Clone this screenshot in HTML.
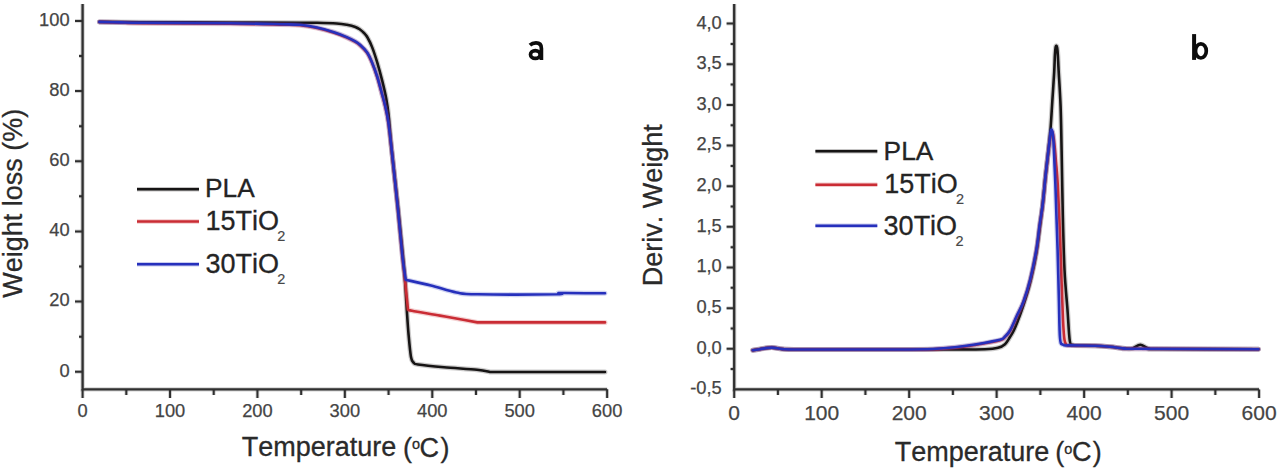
<!DOCTYPE html>
<html><head><meta charset="utf-8"><title>TGA / DTG curves</title>
<style>
html,body{margin:0;padding:0;background:#fff;width:1280px;height:470px;overflow:hidden}
svg{display:block;font-family:"Liberation Sans", sans-serif;font-kerning:none}
text{font-kerning:none}
text{fill:#2a2a2a}
.tk{fill:#444;stroke:#444;stroke-width:0.25px}
.ti{fill:#2a2a2a;stroke:#2a2a2a;stroke-width:0.3px}
.lg{fill:#242424;stroke:#242424;stroke-width:0.3px}
.sb{fill:#474747;stroke:#474747;stroke-width:0.2px}
.lb{fill:#0a0a0a;stroke:#0a0a0a;stroke-width:0.3px}
</style></head><body>
<svg width="1280" height="470" viewBox="0 0 1280 470">
<rect width="1280" height="470" fill="#fff"/>
<path d="M82.60,3.90 L82.60,389.35 L607.12,389.35" fill="none" stroke="#303030" stroke-opacity="0.22" stroke-width="4.3"/>
<path d="M82.60,389.35 v8.6 M126.31,389.35 v5.6 M170.02,389.35 v8.6 M213.73,389.35 v5.6 M257.44,389.35 v8.6 M301.15,389.35 v5.6 M344.86,389.35 v8.6 M388.57,389.35 v5.6 M432.28,389.35 v8.6 M475.99,389.35 v5.6 M519.70,389.35 v8.6 M563.41,389.35 v5.6 M607.12,389.35 v8.6 M82.60,371.80 h-7.6 M82.60,336.71 h-3.6 M82.60,301.62 h-7.6 M82.60,266.53 h-3.6 M82.60,231.44 h-7.6 M82.60,196.35 h-3.6 M82.60,161.26 h-7.6 M82.60,126.17 h-3.6 M82.60,91.08 h-7.6 M82.60,55.99 h-3.6 M82.60,20.90 h-7.6" fill="none" stroke="#303030" stroke-opacity="0.22" stroke-width="3.8"/>
<path d="M82.60,3.90 L82.60,389.35 L607.12,389.35" fill="none" stroke="#303030" stroke-width="2.3"/>
<path d="M82.60,389.35 v8.6 M126.31,389.35 v5.6 M170.02,389.35 v8.6 M213.73,389.35 v5.6 M257.44,389.35 v8.6 M301.15,389.35 v5.6 M344.86,389.35 v8.6 M388.57,389.35 v5.6 M432.28,389.35 v8.6 M475.99,389.35 v5.6 M519.70,389.35 v8.6 M563.41,389.35 v5.6 M607.12,389.35 v8.6 M82.60,371.80 h-7.6 M82.60,336.71 h-3.6 M82.60,301.62 h-7.6 M82.60,266.53 h-3.6 M82.60,231.44 h-7.6 M82.60,196.35 h-3.6 M82.60,161.26 h-7.6 M82.60,126.17 h-3.6 M82.60,91.08 h-7.6 M82.60,55.99 h-3.6 M82.60,20.90 h-7.6" fill="none" stroke="#303030" stroke-width="2"/>
<text class="tk" x="69.6" y="376.50" text-anchor="end" font-size="18.3">0</text>
<text class="tk" x="69.6" y="306.32" text-anchor="end" font-size="18.3">20</text>
<text class="tk" x="69.6" y="236.14" text-anchor="end" font-size="18.3">40</text>
<text class="tk" x="69.6" y="165.96" text-anchor="end" font-size="18.3">60</text>
<text class="tk" x="69.6" y="95.78" text-anchor="end" font-size="18.3">80</text>
<text class="tk" x="69.6" y="25.60" text-anchor="end" font-size="18.3">100</text>
<text class="tk" x="82.60" y="417.2" text-anchor="middle" font-size="18.3">0</text>
<text class="tk" x="170.02" y="417.2" text-anchor="middle" font-size="18.3">100</text>
<text class="tk" x="257.44" y="417.2" text-anchor="middle" font-size="18.3">200</text>
<text class="tk" x="344.86" y="417.2" text-anchor="middle" font-size="18.3">300</text>
<text class="tk" x="432.28" y="417.2" text-anchor="middle" font-size="18.3">400</text>
<text class="tk" x="519.70" y="417.2" text-anchor="middle" font-size="18.3">500</text>
<text class="tk" x="607.12" y="417.2" text-anchor="middle" font-size="18.3">600</text>
<path d="M734.20,3.90 L734.20,389.45 L1259.08,389.45" fill="none" stroke="#303030" stroke-opacity="0.22" stroke-width="4.3"/>
<path d="M734.20,389.45 v8.6 M777.94,389.45 v5.6 M821.68,389.45 v8.6 M865.42,389.45 v5.6 M909.16,389.45 v8.6 M952.90,389.45 v5.6 M996.64,389.45 v8.6 M1040.38,389.45 v5.6 M1084.12,389.45 v8.6 M1127.86,389.45 v5.6 M1171.60,389.45 v8.6 M1215.34,389.45 v5.6 M1259.08,389.45 v8.6 M734.20,369.12 h-3.6 M734.20,348.80 h-7.6 M734.20,328.48 h-3.6 M734.20,308.15 h-7.6 M734.20,287.83 h-3.6 M734.20,267.50 h-7.6 M734.20,247.18 h-3.6 M734.20,226.85 h-7.6 M734.20,206.53 h-3.6 M734.20,186.20 h-7.6 M734.20,165.88 h-3.6 M734.20,145.55 h-7.6 M734.20,125.23 h-3.6 M734.20,104.90 h-7.6 M734.20,84.58 h-3.6 M734.20,64.25 h-7.6 M734.20,43.93 h-3.6 M734.20,23.60 h-7.6" fill="none" stroke="#303030" stroke-opacity="0.22" stroke-width="3.8"/>
<path d="M734.20,3.90 L734.20,389.45 L1259.08,389.45" fill="none" stroke="#303030" stroke-width="2.3"/>
<path d="M734.20,389.45 v8.6 M777.94,389.45 v5.6 M821.68,389.45 v8.6 M865.42,389.45 v5.6 M909.16,389.45 v8.6 M952.90,389.45 v5.6 M996.64,389.45 v8.6 M1040.38,389.45 v5.6 M1084.12,389.45 v8.6 M1127.86,389.45 v5.6 M1171.60,389.45 v8.6 M1215.34,389.45 v5.6 M1259.08,389.45 v8.6 M734.20,369.12 h-3.6 M734.20,348.80 h-7.6 M734.20,328.48 h-3.6 M734.20,308.15 h-7.6 M734.20,287.83 h-3.6 M734.20,267.50 h-7.6 M734.20,247.18 h-3.6 M734.20,226.85 h-7.6 M734.20,206.53 h-3.6 M734.20,186.20 h-7.6 M734.20,165.88 h-3.6 M734.20,145.55 h-7.6 M734.20,125.23 h-3.6 M734.20,104.90 h-7.6 M734.20,84.58 h-3.6 M734.20,64.25 h-7.6 M734.20,43.93 h-3.6 M734.20,23.60 h-7.6" fill="none" stroke="#303030" stroke-width="2"/>
<text class="tk" x="721.8" y="394.35" text-anchor="end" font-size="18.3">-0,5</text>
<text class="tk" x="721.8" y="353.70" text-anchor="end" font-size="18.3">0,0</text>
<text class="tk" x="721.8" y="313.05" text-anchor="end" font-size="18.3">0,5</text>
<text class="tk" x="721.8" y="272.40" text-anchor="end" font-size="18.3">1,0</text>
<text class="tk" x="721.8" y="231.75" text-anchor="end" font-size="18.3">1,5</text>
<text class="tk" x="721.8" y="191.10" text-anchor="end" font-size="18.3">2,0</text>
<text class="tk" x="721.8" y="150.45" text-anchor="end" font-size="18.3">2,5</text>
<text class="tk" x="721.8" y="109.80" text-anchor="end" font-size="18.3">3,0</text>
<text class="tk" x="721.8" y="69.15" text-anchor="end" font-size="18.3">3,5</text>
<text class="tk" x="721.8" y="28.50" text-anchor="end" font-size="18.3">4,0</text>
<text class="tk" x="734.20" y="419.8" text-anchor="middle" font-size="21">0</text>
<text class="tk" x="821.68" y="419.8" text-anchor="middle" font-size="21">100</text>
<text class="tk" x="909.16" y="419.8" text-anchor="middle" font-size="21">200</text>
<text class="tk" x="996.64" y="419.8" text-anchor="middle" font-size="21">300</text>
<text class="tk" x="1084.12" y="419.8" text-anchor="middle" font-size="21">400</text>
<text class="tk" x="1171.60" y="419.8" text-anchor="middle" font-size="21">500</text>
<text class="tk" x="1259.08" y="419.8" text-anchor="middle" font-size="21">600</text>
<text class="ti" x="241.70" y="456.30" font-size="27">Temperature</text>
<text class="ti" x="403.00" y="456.50" font-size="27">(</text>
<text class="ti" x="412.00" y="449.30" font-size="14.5">o</text>
<text class="ti" x="419.60" y="456.50" font-size="27">C</text>
<text class="ti" x="440.40" y="456.50" font-size="27">)</text>
<text class="ti" x="894.80" y="460.90" font-size="27">Temperature</text>
<text class="ti" x="1055.30" y="461.10" font-size="27">(</text>
<text class="ti" x="1064.30" y="453.90" font-size="14.5">o</text>
<text class="ti" x="1071.90" y="461.10" font-size="27">C</text>
<text class="ti" x="1092.70" y="461.10" font-size="27">)</text>
<text class="ti" transform="translate(21.8,297.8) rotate(-90)" font-size="27">Weight loss (%)</text>
<text class="ti" transform="translate(662.1,286.2) rotate(-90)" font-size="27">Deriv. Weight</text>
<g fill="none" stroke="#0c0c0c" stroke-width="3.7"><path d="M529.9,45.2 C531.8,43.4 533.8,42.9 536,42.9 C539.9,42.9 541.4,44.9 541.4,48.4 V59.9"/><ellipse cx="535.3" cy="54.5" rx="4.8" ry="3.85"/></g>
<g fill="none" stroke="#0c0c0c"><path d="M1194.1,34.1 V59.9" stroke-width="4"/><ellipse cx="1200.9" cy="50.9" rx="5.4" ry="7.1" stroke-width="3.7"/></g>
<path d="M137,189.2 H199" stroke="#161414" stroke-opacity="0.25" stroke-width="4.6"/>
<path d="M137,189.2 H199" stroke="#161414" stroke-width="2.5"/>
<path d="M137,221.5 H199" stroke="#ca2c34" stroke-opacity="0.25" stroke-width="4.6"/>
<path d="M137,221.5 H199" stroke="#ca2c34" stroke-width="2.5"/>
<path d="M137,264.3 H199" stroke="#2630bc" stroke-opacity="0.25" stroke-width="4.6"/>
<path d="M137,264.3 H199" stroke="#2630bc" stroke-width="2.5"/>
<text class="lg" x="205.0" y="196.7" font-size="26.3">PLA</text>
<text class="lg" x="205.5" y="229.7" font-size="27">15TiO</text>
<text class="sb" x="277.30" y="240.70" font-size="14.5">2</text>
<text class="lg" x="205.4" y="272.6" font-size="27">30TiO</text>
<text class="sb" x="277.20" y="283.60" font-size="14.5">2</text>
<path d="M815.4,151.3 H877.3" stroke="#161414" stroke-opacity="0.25" stroke-width="4.6"/>
<path d="M815.4,151.3 H877.3" stroke="#161414" stroke-width="2.5"/>
<path d="M815.4,184.7 H877.3" stroke="#ca2c34" stroke-opacity="0.25" stroke-width="4.6"/>
<path d="M815.4,184.7 H877.3" stroke="#ca2c34" stroke-width="2.5"/>
<path d="M815.4,225.8 H877.3" stroke="#2630bc" stroke-opacity="0.25" stroke-width="4.6"/>
<path d="M815.4,225.8 H877.3" stroke="#2630bc" stroke-width="2.5"/>
<text class="lg" x="883.6" y="159.7" font-size="26.3">PLA</text>
<text class="lg" x="884.2" y="192.6" font-size="27">15TiO</text>
<text class="sb" x="956.00" y="203.60" font-size="14.5">2</text>
<text class="lg" x="883.6" y="234.7" font-size="27">30TiO</text>
<text class="sb" x="955.40" y="245.70" font-size="14.5">2</text>
<path d="M99.40,21.90 C106.17,21.95 118.23,22.10 140.00,22.20 C161.77,22.30 203.33,22.42 230.00,22.50 C256.67,22.58 285.50,22.65 300.00,22.70 C314.50,22.75 310.90,22.67 317.00,22.80 C323.10,22.93 331.63,23.17 336.60,23.50 C341.57,23.83 343.68,24.23 346.80,24.80 C349.92,25.37 353.10,26.12 355.30,26.90 C357.50,27.68 358.55,28.48 360.00,29.50 C361.45,30.52 362.75,31.67 364.00,33.00 C365.25,34.33 366.15,35.15 367.50,37.50 C368.85,39.85 370.48,42.95 372.10,47.10 C373.72,51.25 375.50,56.73 377.20,62.40 C378.90,68.07 380.78,75.00 382.30,81.10 C383.82,87.20 385.25,93.35 386.30,99.00 C387.35,104.65 387.70,106.50 388.60,115.00 C389.50,123.50 390.08,134.17 391.70,150.00 C393.32,165.83 396.45,192.50 398.30,210.00 C400.15,227.50 401.68,243.33 402.80,255.00 C403.92,266.67 404.33,270.83 405.00,280.00 C405.67,289.17 406.20,300.83 406.80,310.00 C407.40,319.17 407.90,327.17 408.60,335.00 C409.30,342.83 410.18,352.42 411.00,357.00 C411.82,361.58 412.33,361.25 413.50,362.50 C414.67,363.75 412.92,363.70 418.00,364.50 C423.08,365.30 434.17,366.43 444.00,367.30 C453.83,368.17 469.33,368.92 477.00,369.70 C484.67,370.48 487.83,371.62 490.00,372.00 C509.17,372.00 585.83,372.00 605.00,372.00" fill="none" stroke="#161414" stroke-opacity="0.22" stroke-width="5.0" stroke-linejoin="round" stroke-linecap="round"/>
<path d="M99.40,21.90 C106.17,21.95 118.23,22.10 140.00,22.20 C161.77,22.30 203.33,22.42 230.00,22.50 C256.67,22.58 285.50,22.65 300.00,22.70 C314.50,22.75 310.90,22.67 317.00,22.80 C323.10,22.93 331.63,23.17 336.60,23.50 C341.57,23.83 343.68,24.23 346.80,24.80 C349.92,25.37 353.10,26.12 355.30,26.90 C357.50,27.68 358.55,28.48 360.00,29.50 C361.45,30.52 362.75,31.67 364.00,33.00 C365.25,34.33 366.15,35.15 367.50,37.50 C368.85,39.85 370.48,42.95 372.10,47.10 C373.72,51.25 375.50,56.73 377.20,62.40 C378.90,68.07 380.78,75.00 382.30,81.10 C383.82,87.20 385.25,93.35 386.30,99.00 C387.35,104.65 387.70,106.50 388.60,115.00 C389.50,123.50 390.08,134.17 391.70,150.00 C393.32,165.83 396.45,192.50 398.30,210.00 C400.15,227.50 401.68,243.33 402.80,255.00 C403.92,266.67 404.33,270.83 405.00,280.00 C405.67,289.17 406.20,300.83 406.80,310.00 C407.40,319.17 407.90,327.17 408.60,335.00 C409.30,342.83 410.18,352.42 411.00,357.00 C411.82,361.58 412.33,361.25 413.50,362.50 C414.67,363.75 412.92,363.70 418.00,364.50 C423.08,365.30 434.17,366.43 444.00,367.30 C453.83,368.17 469.33,368.92 477.00,369.70 C484.67,370.48 487.83,371.62 490.00,372.00 C509.17,372.00 585.83,372.00 605.00,372.00" fill="none" stroke="#161414" stroke-width="2.6" stroke-linejoin="round" stroke-linecap="round"/>
<path d="M99.40,21.90 C103.00,22.02 113.90,22.38 121.00,22.60 C128.10,22.82 123.83,23.02 142.00,23.20 C160.17,23.38 207.00,23.47 230.00,23.70 C253.00,23.93 268.33,24.35 280.00,24.60 C291.67,24.85 293.83,24.62 300.00,25.20 C306.17,25.78 311.33,26.85 317.00,28.10 C322.67,29.35 329.03,31.12 334.00,32.70 C338.97,34.28 343.25,36.07 346.80,37.60 C350.35,39.13 353.10,40.62 355.30,41.90 C357.50,43.18 358.05,43.50 360.00,45.30 C361.95,47.10 364.98,49.77 367.00,52.70 C369.02,55.63 370.40,58.85 372.10,62.90 C373.80,66.95 375.63,72.07 377.20,77.00 C378.77,81.93 380.17,87.58 381.50,92.50 C382.83,97.42 384.07,101.50 385.20,106.50 C386.33,111.50 387.22,115.17 388.30,122.50 C389.38,129.83 390.08,135.83 391.70,150.50 C393.32,165.17 396.23,193.00 398.00,210.50 C399.77,228.00 401.22,244.75 402.30,255.50 C403.38,266.25 404.13,271.75 404.50,275.00 C404.83,278.33 405.92,289.25 406.50,295.00 C407.08,300.75 407.75,307.08 408.00,309.50 C408.67,309.72 406.67,309.78 412.00,310.80 C417.33,311.82 431.25,314.07 440.00,315.60 C448.75,317.13 458.28,318.87 464.50,320.00 C470.72,321.13 475.17,322.00 477.30,322.40 C498.58,322.40 583.72,322.40 605.00,322.40" fill="none" stroke="#ca2c34" stroke-opacity="0.22" stroke-width="5.0" stroke-linejoin="round" stroke-linecap="round"/>
<path d="M99.40,21.90 C103.00,22.02 113.90,22.38 121.00,22.60 C128.10,22.82 123.83,23.02 142.00,23.20 C160.17,23.38 207.00,23.47 230.00,23.70 C253.00,23.93 268.33,24.35 280.00,24.60 C291.67,24.85 293.83,24.62 300.00,25.20 C306.17,25.78 311.33,26.85 317.00,28.10 C322.67,29.35 329.03,31.12 334.00,32.70 C338.97,34.28 343.25,36.07 346.80,37.60 C350.35,39.13 353.10,40.62 355.30,41.90 C357.50,43.18 358.05,43.50 360.00,45.30 C361.95,47.10 364.98,49.77 367.00,52.70 C369.02,55.63 370.40,58.85 372.10,62.90 C373.80,66.95 375.63,72.07 377.20,77.00 C378.77,81.93 380.17,87.58 381.50,92.50 C382.83,97.42 384.07,101.50 385.20,106.50 C386.33,111.50 387.22,115.17 388.30,122.50 C389.38,129.83 390.08,135.83 391.70,150.50 C393.32,165.17 396.23,193.00 398.00,210.50 C399.77,228.00 401.22,244.75 402.30,255.50 C403.38,266.25 404.13,271.75 404.50,275.00 C404.83,278.33 405.92,289.25 406.50,295.00 C407.08,300.75 407.75,307.08 408.00,309.50 C408.67,309.72 406.67,309.78 412.00,310.80 C417.33,311.82 431.25,314.07 440.00,315.60 C448.75,317.13 458.28,318.87 464.50,320.00 C470.72,321.13 475.17,322.00 477.30,322.40 C498.58,322.40 583.72,322.40 605.00,322.40" fill="none" stroke="#ca2c34" stroke-width="2.6" stroke-linejoin="round" stroke-linecap="round"/>
<path d="M99.40,21.90 C103.00,21.98 113.90,22.25 121.00,22.40 C128.10,22.55 123.83,22.65 142.00,22.80 C160.17,22.95 207.00,23.07 230.00,23.30 C253.00,23.53 268.33,23.95 280.00,24.20 C291.67,24.45 293.83,24.23 300.00,24.80 C306.17,25.37 311.33,26.37 317.00,27.60 C322.67,28.83 329.03,30.62 334.00,32.20 C338.97,33.78 343.25,35.57 346.80,37.10 C350.35,38.63 353.10,40.12 355.30,41.40 C357.50,42.68 358.05,43.00 360.00,44.80 C361.95,46.60 364.98,49.27 367.00,52.20 C369.02,55.13 370.40,58.35 372.10,62.40 C373.80,66.45 375.63,71.57 377.20,76.50 C378.77,81.43 380.17,87.08 381.50,92.00 C382.83,96.92 384.07,101.00 385.20,106.00 C386.33,111.00 387.22,114.67 388.30,122.00 C389.38,129.33 390.08,135.33 391.70,150.00 C393.32,164.67 396.23,192.50 398.00,210.00 C399.77,227.50 401.22,244.67 402.30,255.00 C403.38,265.33 403.92,267.87 404.50,272.00 C405.08,276.13 405.58,278.50 405.80,279.80 C410.00,280.75 422.55,283.38 431.00,285.50 C439.45,287.62 448.78,291.03 456.50,292.50 C464.22,293.97 460.55,294.00 477.30,294.30 C494.05,294.60 543.17,294.52 557.00,294.30 C570.83,294.08 552.30,293.17 560.30,293.00 C568.30,292.83 597.55,293.25 605.00,293.30" fill="none" stroke="#2630bc" stroke-opacity="0.22" stroke-width="5.0" stroke-linejoin="round" stroke-linecap="round"/>
<path d="M99.40,21.90 C103.00,21.98 113.90,22.25 121.00,22.40 C128.10,22.55 123.83,22.65 142.00,22.80 C160.17,22.95 207.00,23.07 230.00,23.30 C253.00,23.53 268.33,23.95 280.00,24.20 C291.67,24.45 293.83,24.23 300.00,24.80 C306.17,25.37 311.33,26.37 317.00,27.60 C322.67,28.83 329.03,30.62 334.00,32.20 C338.97,33.78 343.25,35.57 346.80,37.10 C350.35,38.63 353.10,40.12 355.30,41.40 C357.50,42.68 358.05,43.00 360.00,44.80 C361.95,46.60 364.98,49.27 367.00,52.20 C369.02,55.13 370.40,58.35 372.10,62.40 C373.80,66.45 375.63,71.57 377.20,76.50 C378.77,81.43 380.17,87.08 381.50,92.00 C382.83,96.92 384.07,101.00 385.20,106.00 C386.33,111.00 387.22,114.67 388.30,122.00 C389.38,129.33 390.08,135.33 391.70,150.00 C393.32,164.67 396.23,192.50 398.00,210.00 C399.77,227.50 401.22,244.67 402.30,255.00 C403.38,265.33 403.92,267.87 404.50,272.00 C405.08,276.13 405.58,278.50 405.80,279.80 C410.00,280.75 422.55,283.38 431.00,285.50 C439.45,287.62 448.78,291.03 456.50,292.50 C464.22,293.97 460.55,294.00 477.30,294.30 C494.05,294.60 543.17,294.52 557.00,294.30 C570.83,294.08 552.30,293.17 560.30,293.00 C568.30,292.83 597.55,293.25 605.00,293.30" fill="none" stroke="#2630bc" stroke-width="2.6" stroke-linejoin="round" stroke-linecap="round"/>
<path d="M752.80,350.20 C754.00,350.00 756.82,349.43 760.00,349.00 C763.18,348.57 768.13,347.58 771.90,347.60 C775.67,347.62 777.92,348.78 782.60,349.10 C787.28,349.42 780.43,349.43 800.00,349.50 C819.57,349.57 873.33,349.52 900.00,349.50 C926.67,349.48 945.83,349.43 960.00,349.40 C974.17,349.37 978.67,349.57 985.00,349.30 C991.33,349.03 994.67,348.63 998.00,347.80 C1001.33,346.97 1003.00,346.10 1005.00,344.30 C1007.00,342.50 1008.50,339.38 1010.00,337.00 C1011.50,334.62 1012.33,333.67 1014.00,330.00 C1015.67,326.33 1018.00,320.50 1020.00,315.00 C1022.00,309.50 1024.28,302.50 1026.00,297.00 C1027.72,291.50 1028.55,289.50 1030.30,282.00 C1032.05,274.50 1034.45,264.83 1036.50,252.00 C1038.55,239.17 1041.10,217.67 1042.60,205.00 C1044.10,192.33 1044.52,185.17 1045.50,176.00 C1046.48,166.83 1047.65,158.00 1048.50,150.00 C1049.35,142.00 1049.97,136.08 1050.60,128.00 C1051.23,119.92 1051.70,110.83 1052.30,101.50 C1052.90,92.17 1053.77,79.75 1054.20,72.00 C1054.63,64.25 1054.67,59.08 1054.90,55.00 C1055.13,50.92 1055.35,49.03 1055.60,47.50 C1055.85,45.97 1056.13,45.72 1056.40,45.80 C1056.67,45.88 1056.95,46.30 1057.20,48.00 C1057.45,49.70 1057.67,52.33 1057.90,56.00 C1058.13,59.67 1058.15,61.57 1058.60,70.00 C1059.05,78.43 1060.10,93.27 1060.60,106.60 C1061.10,119.93 1061.23,131.93 1061.60,150.00 C1061.97,168.07 1062.32,195.00 1062.80,215.00 C1063.28,235.00 1063.72,254.17 1064.50,270.00 C1065.28,285.83 1066.62,298.18 1067.50,310.00 C1068.38,321.82 1068.88,335.07 1069.80,340.90 C1070.72,346.73 1071.30,344.23 1073.00,345.00 C1074.70,345.77 1076.33,345.37 1080.00,345.50 C1083.67,345.63 1090.00,345.58 1095.00,345.80 C1100.00,346.02 1105.00,346.35 1110.00,346.80 C1115.00,347.25 1121.25,348.23 1125.00,348.50 C1128.75,348.77 1129.95,349.02 1132.50,348.40 C1135.05,347.78 1137.55,344.77 1140.30,344.80 C1143.05,344.83 1145.72,347.90 1149.00,348.60 C1152.28,349.30 1141.75,348.88 1160.00,349.00 C1178.25,349.12 1242.08,349.25 1258.50,349.30" fill="none" stroke="#161414" stroke-opacity="0.22" stroke-width="5.0" stroke-linejoin="round" stroke-linecap="round"/>
<path d="M752.80,350.20 C754.00,350.00 756.82,349.43 760.00,349.00 C763.18,348.57 768.13,347.58 771.90,347.60 C775.67,347.62 777.92,348.78 782.60,349.10 C787.28,349.42 780.43,349.43 800.00,349.50 C819.57,349.57 873.33,349.52 900.00,349.50 C926.67,349.48 945.83,349.43 960.00,349.40 C974.17,349.37 978.67,349.57 985.00,349.30 C991.33,349.03 994.67,348.63 998.00,347.80 C1001.33,346.97 1003.00,346.10 1005.00,344.30 C1007.00,342.50 1008.50,339.38 1010.00,337.00 C1011.50,334.62 1012.33,333.67 1014.00,330.00 C1015.67,326.33 1018.00,320.50 1020.00,315.00 C1022.00,309.50 1024.28,302.50 1026.00,297.00 C1027.72,291.50 1028.55,289.50 1030.30,282.00 C1032.05,274.50 1034.45,264.83 1036.50,252.00 C1038.55,239.17 1041.10,217.67 1042.60,205.00 C1044.10,192.33 1044.52,185.17 1045.50,176.00 C1046.48,166.83 1047.65,158.00 1048.50,150.00 C1049.35,142.00 1049.97,136.08 1050.60,128.00 C1051.23,119.92 1051.70,110.83 1052.30,101.50 C1052.90,92.17 1053.77,79.75 1054.20,72.00 C1054.63,64.25 1054.67,59.08 1054.90,55.00 C1055.13,50.92 1055.35,49.03 1055.60,47.50 C1055.85,45.97 1056.13,45.72 1056.40,45.80 C1056.67,45.88 1056.95,46.30 1057.20,48.00 C1057.45,49.70 1057.67,52.33 1057.90,56.00 C1058.13,59.67 1058.15,61.57 1058.60,70.00 C1059.05,78.43 1060.10,93.27 1060.60,106.60 C1061.10,119.93 1061.23,131.93 1061.60,150.00 C1061.97,168.07 1062.32,195.00 1062.80,215.00 C1063.28,235.00 1063.72,254.17 1064.50,270.00 C1065.28,285.83 1066.62,298.18 1067.50,310.00 C1068.38,321.82 1068.88,335.07 1069.80,340.90 C1070.72,346.73 1071.30,344.23 1073.00,345.00 C1074.70,345.77 1076.33,345.37 1080.00,345.50 C1083.67,345.63 1090.00,345.58 1095.00,345.80 C1100.00,346.02 1105.00,346.35 1110.00,346.80 C1115.00,347.25 1121.25,348.23 1125.00,348.50 C1128.75,348.77 1129.95,349.02 1132.50,348.40 C1135.05,347.78 1137.55,344.77 1140.30,344.80 C1143.05,344.83 1145.72,347.90 1149.00,348.60 C1152.28,349.30 1141.75,348.88 1160.00,349.00 C1178.25,349.12 1242.08,349.25 1258.50,349.30" fill="none" stroke="#161414" stroke-width="2.6" stroke-linejoin="round" stroke-linecap="round"/>
<path d="M752.80,350.20 C754.00,350.03 756.82,349.63 760.00,349.20 C763.18,348.77 768.13,347.62 771.90,347.60 C775.67,347.58 777.92,348.78 782.60,349.10 C787.28,349.42 780.43,349.43 800.00,349.50 C819.57,349.57 877.83,349.55 900.00,349.50 C922.17,349.45 923.83,349.52 933.00,349.20 C942.17,348.88 948.00,348.30 955.00,347.60 C962.00,346.90 967.50,346.22 975.00,345.00 C982.50,343.78 995.00,341.63 1000.00,340.30 C1005.00,338.97 1003.33,338.55 1005.00,337.00 C1006.67,335.45 1008.05,334.33 1010.00,331.00 C1011.95,327.67 1014.45,321.83 1016.70,317.00 C1018.95,312.17 1021.23,308.17 1023.50,302.00 C1025.77,295.83 1028.13,288.67 1030.30,280.00 C1032.47,271.33 1034.92,259.17 1036.50,250.00 C1038.08,240.83 1038.78,232.33 1039.80,225.00 C1040.82,217.67 1041.65,214.00 1042.60,206.00 C1043.55,198.00 1044.55,186.00 1045.50,177.00 C1046.45,168.00 1047.52,158.50 1048.30,152.00 C1049.08,145.50 1049.67,141.33 1050.20,138.00 C1050.73,134.67 1051.03,132.67 1051.50,132.00 C1051.97,131.33 1052.50,131.83 1053.00,134.00 C1053.50,136.17 1054.00,140.33 1054.50,145.00 C1055.00,149.67 1055.45,155.33 1056.00,162.00 C1056.55,168.67 1057.17,173.67 1057.80,185.00 C1058.43,196.33 1059.18,214.17 1059.80,230.00 C1060.42,245.83 1060.97,265.00 1061.50,280.00 C1062.03,295.00 1062.50,310.00 1063.00,320.00 C1063.50,330.00 1063.83,335.83 1064.50,340.00 C1065.17,344.17 1065.75,344.07 1067.00,345.00 C1068.25,345.93 1067.33,345.47 1072.00,345.60 C1076.67,345.73 1088.67,345.60 1095.00,345.80 C1101.33,346.00 1105.00,346.35 1110.00,346.80 C1115.00,347.25 1120.83,348.17 1125.00,348.50 C1129.17,348.83 1112.75,348.67 1135.00,348.80 C1157.25,348.93 1237.92,349.22 1258.50,349.30" fill="none" stroke="#ca2c34" stroke-opacity="0.22" stroke-width="5.0" stroke-linejoin="round" stroke-linecap="round"/>
<path d="M752.80,350.20 C754.00,350.03 756.82,349.63 760.00,349.20 C763.18,348.77 768.13,347.62 771.90,347.60 C775.67,347.58 777.92,348.78 782.60,349.10 C787.28,349.42 780.43,349.43 800.00,349.50 C819.57,349.57 877.83,349.55 900.00,349.50 C922.17,349.45 923.83,349.52 933.00,349.20 C942.17,348.88 948.00,348.30 955.00,347.60 C962.00,346.90 967.50,346.22 975.00,345.00 C982.50,343.78 995.00,341.63 1000.00,340.30 C1005.00,338.97 1003.33,338.55 1005.00,337.00 C1006.67,335.45 1008.05,334.33 1010.00,331.00 C1011.95,327.67 1014.45,321.83 1016.70,317.00 C1018.95,312.17 1021.23,308.17 1023.50,302.00 C1025.77,295.83 1028.13,288.67 1030.30,280.00 C1032.47,271.33 1034.92,259.17 1036.50,250.00 C1038.08,240.83 1038.78,232.33 1039.80,225.00 C1040.82,217.67 1041.65,214.00 1042.60,206.00 C1043.55,198.00 1044.55,186.00 1045.50,177.00 C1046.45,168.00 1047.52,158.50 1048.30,152.00 C1049.08,145.50 1049.67,141.33 1050.20,138.00 C1050.73,134.67 1051.03,132.67 1051.50,132.00 C1051.97,131.33 1052.50,131.83 1053.00,134.00 C1053.50,136.17 1054.00,140.33 1054.50,145.00 C1055.00,149.67 1055.45,155.33 1056.00,162.00 C1056.55,168.67 1057.17,173.67 1057.80,185.00 C1058.43,196.33 1059.18,214.17 1059.80,230.00 C1060.42,245.83 1060.97,265.00 1061.50,280.00 C1062.03,295.00 1062.50,310.00 1063.00,320.00 C1063.50,330.00 1063.83,335.83 1064.50,340.00 C1065.17,344.17 1065.75,344.07 1067.00,345.00 C1068.25,345.93 1067.33,345.47 1072.00,345.60 C1076.67,345.73 1088.67,345.60 1095.00,345.80 C1101.33,346.00 1105.00,346.35 1110.00,346.80 C1115.00,347.25 1120.83,348.17 1125.00,348.50 C1129.17,348.83 1112.75,348.67 1135.00,348.80 C1157.25,348.93 1237.92,349.22 1258.50,349.30" fill="none" stroke="#ca2c34" stroke-width="2.6" stroke-linejoin="round" stroke-linecap="round"/>
<path d="M752.80,350.20 C754.00,350.03 756.82,349.63 760.00,349.20 C763.18,348.77 768.13,347.62 771.90,347.60 C775.67,347.58 777.92,348.78 782.60,349.10 C787.28,349.42 780.43,349.43 800.00,349.50 C819.57,349.57 877.83,349.58 900.00,349.50 C922.17,349.42 923.83,349.37 933.00,349.00 C942.17,348.63 948.00,348.05 955.00,347.30 C962.00,346.55 967.50,345.75 975.00,344.50 C982.50,343.25 995.00,341.13 1000.00,339.80 C1005.00,338.47 1003.33,338.05 1005.00,336.50 C1006.67,334.95 1008.05,333.92 1010.00,330.50 C1011.95,327.08 1014.45,320.83 1016.70,316.00 C1018.95,311.17 1021.23,307.67 1023.50,301.50 C1025.77,295.33 1028.13,287.75 1030.30,279.00 C1032.47,270.25 1034.95,258.00 1036.50,249.00 C1038.05,240.00 1038.58,232.33 1039.60,225.00 C1040.62,217.67 1041.62,213.17 1042.60,205.00 C1043.58,196.83 1044.55,185.00 1045.50,176.00 C1046.45,167.00 1047.55,157.50 1048.30,151.00 C1049.05,144.50 1049.55,140.50 1050.00,137.00 C1050.45,133.50 1050.60,130.92 1051.00,130.00 C1051.40,129.08 1051.98,129.50 1052.40,131.50 C1052.82,133.50 1053.17,136.92 1053.50,142.00 C1053.83,147.08 1054.08,154.83 1054.40,162.00 C1054.72,169.17 1055.08,176.67 1055.40,185.00 C1055.72,193.33 1055.93,201.17 1056.30,212.00 C1056.67,222.83 1057.17,235.33 1057.60,250.00 C1058.03,264.67 1058.50,285.33 1058.90,300.00 C1059.30,314.67 1059.32,330.53 1060.00,338.00 C1060.68,345.47 1061.33,343.57 1063.00,344.80 C1064.67,346.03 1064.67,345.23 1070.00,345.40 C1075.33,345.57 1088.33,345.57 1095.00,345.80 C1101.67,346.03 1105.00,346.35 1110.00,346.80 C1115.00,347.25 1120.83,348.17 1125.00,348.50 C1129.17,348.83 1112.75,348.67 1135.00,348.80 C1157.25,348.93 1237.92,349.22 1258.50,349.30" fill="none" stroke="#2630bc" stroke-opacity="0.22" stroke-width="5.0" stroke-linejoin="round" stroke-linecap="round"/>
<path d="M752.80,350.20 C754.00,350.03 756.82,349.63 760.00,349.20 C763.18,348.77 768.13,347.62 771.90,347.60 C775.67,347.58 777.92,348.78 782.60,349.10 C787.28,349.42 780.43,349.43 800.00,349.50 C819.57,349.57 877.83,349.58 900.00,349.50 C922.17,349.42 923.83,349.37 933.00,349.00 C942.17,348.63 948.00,348.05 955.00,347.30 C962.00,346.55 967.50,345.75 975.00,344.50 C982.50,343.25 995.00,341.13 1000.00,339.80 C1005.00,338.47 1003.33,338.05 1005.00,336.50 C1006.67,334.95 1008.05,333.92 1010.00,330.50 C1011.95,327.08 1014.45,320.83 1016.70,316.00 C1018.95,311.17 1021.23,307.67 1023.50,301.50 C1025.77,295.33 1028.13,287.75 1030.30,279.00 C1032.47,270.25 1034.95,258.00 1036.50,249.00 C1038.05,240.00 1038.58,232.33 1039.60,225.00 C1040.62,217.67 1041.62,213.17 1042.60,205.00 C1043.58,196.83 1044.55,185.00 1045.50,176.00 C1046.45,167.00 1047.55,157.50 1048.30,151.00 C1049.05,144.50 1049.55,140.50 1050.00,137.00 C1050.45,133.50 1050.60,130.92 1051.00,130.00 C1051.40,129.08 1051.98,129.50 1052.40,131.50 C1052.82,133.50 1053.17,136.92 1053.50,142.00 C1053.83,147.08 1054.08,154.83 1054.40,162.00 C1054.72,169.17 1055.08,176.67 1055.40,185.00 C1055.72,193.33 1055.93,201.17 1056.30,212.00 C1056.67,222.83 1057.17,235.33 1057.60,250.00 C1058.03,264.67 1058.50,285.33 1058.90,300.00 C1059.30,314.67 1059.32,330.53 1060.00,338.00 C1060.68,345.47 1061.33,343.57 1063.00,344.80 C1064.67,346.03 1064.67,345.23 1070.00,345.40 C1075.33,345.57 1088.33,345.57 1095.00,345.80 C1101.67,346.03 1105.00,346.35 1110.00,346.80 C1115.00,347.25 1120.83,348.17 1125.00,348.50 C1129.17,348.83 1112.75,348.67 1135.00,348.80 C1157.25,348.93 1237.92,349.22 1258.50,349.30" fill="none" stroke="#2630bc" stroke-width="2.6" stroke-linejoin="round" stroke-linecap="round"/>
</svg>
</body></html>
